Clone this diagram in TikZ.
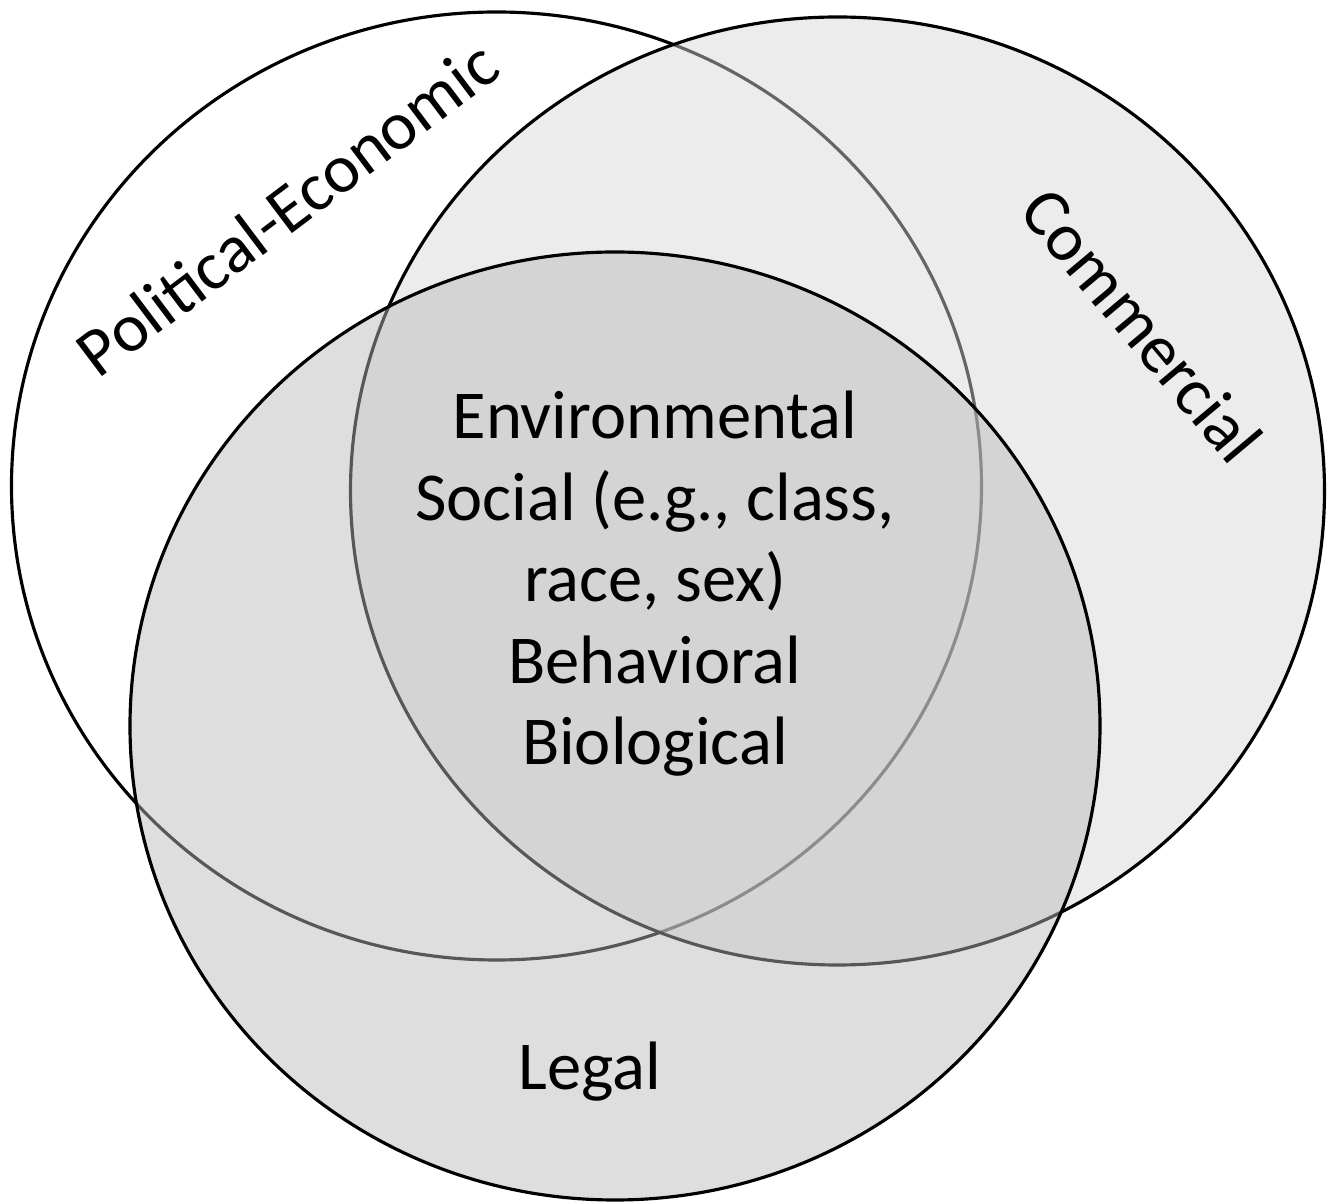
\documentclass[tikz,border=0pt]{standalone}
\usepackage{fontspec}
\setmainfont{Carlito}
\definecolor{vncomm}{HTML}{D7D7D7}
\definecolor{vnlegal}{HTML}{B9B9B9}

\tikzset{
  ring/.style={draw=black, line width=0.9pt},
  lbl/.style={font=\fontsize{19.5}{23}\selectfont, inner sep=0pt, align=center}
}

\begin{document}
\begin{tikzpicture}
    \useasboundingbox (0,0) rectangle (13.38,12.03);

    % the three fields
    \draw[ring, fill=white] (4.965,7.17) ellipse [x radius=4.85, y radius=4.74];
    \draw[ring, fill=vncomm, fill opacity=0.47] (8.375,7.12) ellipse [x radius=4.87, y radius=4.74];
    \draw[ring, fill=vnlegal, fill opacity=0.47] (6.15,4.77) ellipse [x radius=4.85, y radius=4.74];

    \node[lbl, rotate=37] (polecon) at (2.87,9.95) {Political-Economic};
    \node[lbl, rotate=-50] (commerce) at (11.42,8.78) {Commercial};
    \node[lbl] (legal) at (5.9,1.31) {Legal};
    \node[lbl, font=\fontsize{19.5}{23.2}\selectfont] (core) at (6.55,6.19)
      {Environmental\\Social (e.g., class,\\race, sex)\\Behavioral\\Biological};
\end{tikzpicture}
\end{document}
